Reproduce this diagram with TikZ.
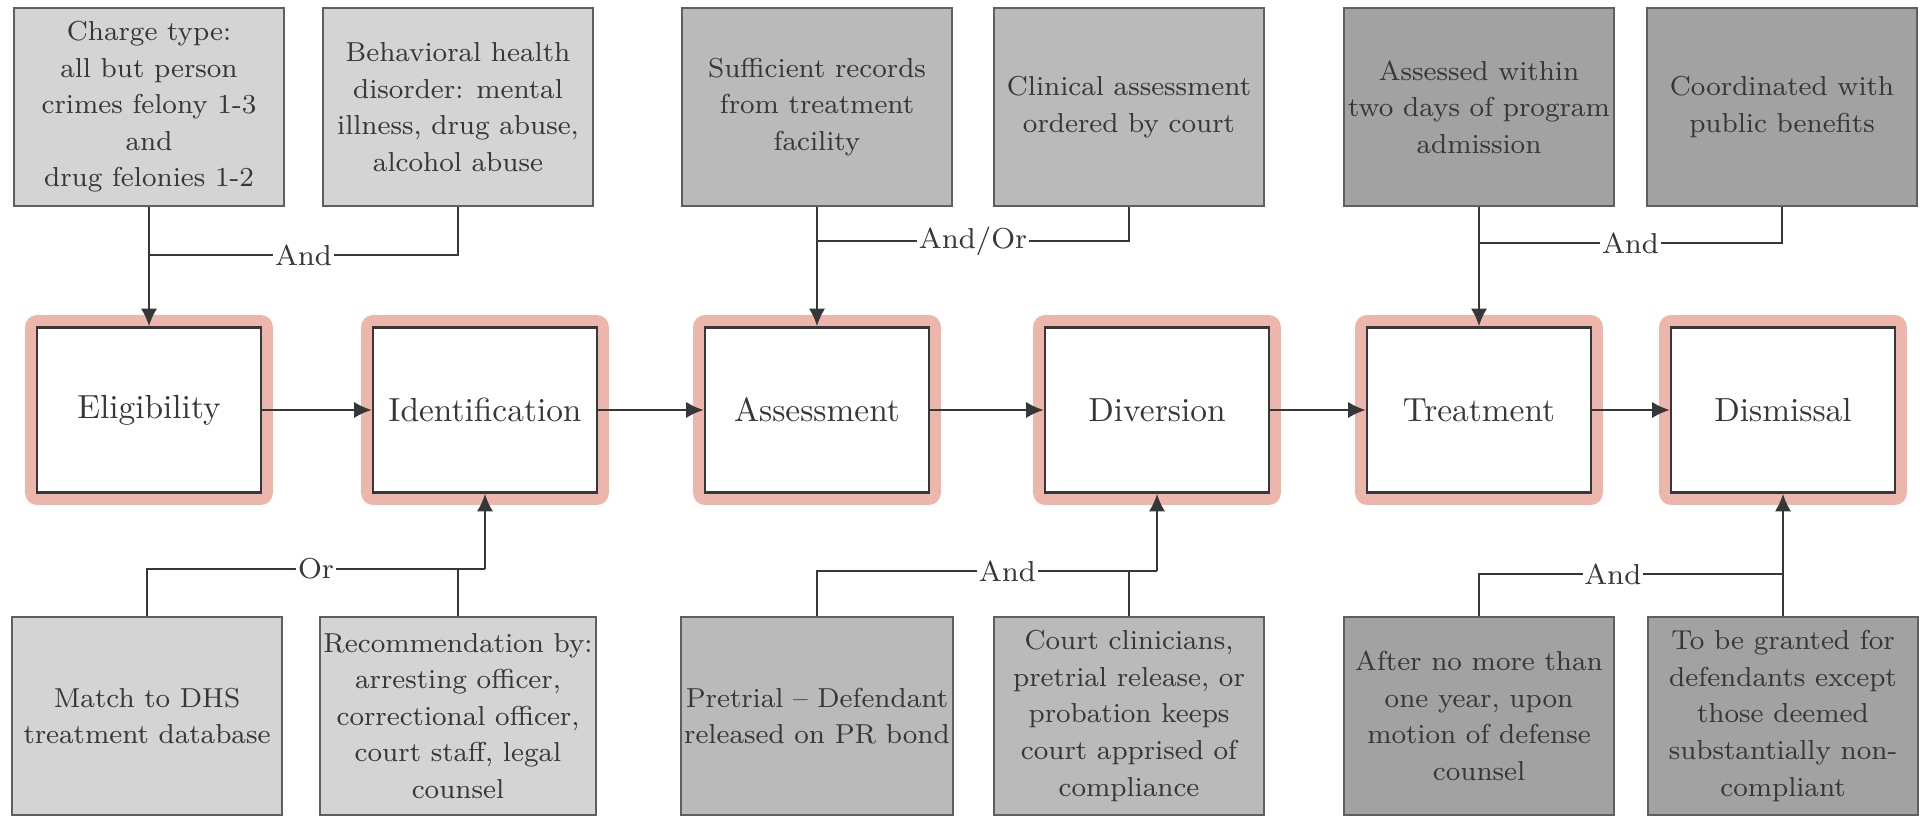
\documentclass[tikz,border=0pt]{standalone}
\usepackage{tikz}
\usetikzlibrary{arrows.meta}
\definecolor{ink}{RGB}{52,56,56}
\definecolor{glowpink}{RGB}{236,182,172}
\definecolor{boxA}{RGB}{212,212,212}
\definecolor{boxB}{RGB}{186,186,186}
\definecolor{boxC}{RGB}{162,162,162}

\begin{document}
\begin{tikzpicture}[x=0.01cm,y=-0.01cm,
  stage/.style={draw=ink,line width=0.7pt,fill=white,minimum width=2.24cm,minimum height=1.65cm,
    text=ink,font=\fontsize{9.5}{11}\selectfont,
    preaction={draw=glowpink,line width=7pt,line join=round}},
  cond/.style={draw=ink!80,line width=0.5pt,fill=#1,minimum width=2.7cm,minimum height=1.98cm,
    inner sep=1pt,align=center,text=ink,font=\fontsize{7.8}{10.4}\selectfont},
  gate/.style={fill=white,inner sep=0.5pt,text=ink,font=\fontsize{8.2}{10}\selectfont},
  link/.style={draw=ink,line width=0.6pt},
  flow/.style={link,-{Latex[length=5pt,width=4.6pt]}}]
\useasboundingbox (0,0) rectangle (1927,819);

\node[stage] (elig) at (149,410) {Eligibility};
\node[stage] (ident) at (485,410) {Identification};
\node[stage] (assess) at (817,410) {Assessment};
\node[stage] (divers) at (1157,410) {Diversion};
\node[stage] (treat) at (1479,410) {Treatment};
\node[stage] (dismiss) at (1783,410) {Dismissal};

\node[cond=boxA] (charge) at (149,107) {Charge type:\\all but person\\crimes felony 1-3\\and\\drug felonies 1-2};
\node[cond=boxA] (behav) at (458,107) {Behavioral health\\disorder: mental\\illness, drug abuse,\\alcohol abuse};
\node[cond=boxB] (records) at (817,107) {Sufficient records\\from treatment\\facility};
\node[cond=boxB] (clinic) at (1129,107) {Clinical assessment\\ordered by court};
\node[cond=boxC] (within) at (1479,107) {Assessed within\\two days of program\\admission};
\node[cond=boxC] (public) at (1782,107) {Coordinated with\\public benefits};

\node[cond=boxA] (dhs) at (147,716) {Match to DHS\\treatment database};
\node[cond=boxA] (recom) at (458,716) {Recommendation by:\\arresting officer,\\correctional officer,\\court staff, legal\\counsel};
\node[cond=boxB] (bond) at (817,716) {Pretrial -- Defendant\\released on PR bond};
\node[cond=boxB] (clinicians) at (1129,716) {Court clinicians,\\pretrial release, or\\probation keeps\\court apprised of\\compliance};
\node[cond=boxC] (oneyear) at (1479,716) {After no more than\\one year, upon\\motion of defense\\counsel};
\node[cond=boxC] (granted) at (1783,716) {To be granted for\\defendants except\\those deemed\\substantially non-\\compliant};

\coordinate (j1) at (149,255);
\coordinate (j2) at (817,241);
\coordinate (j3) at (1479,243);
\coordinate (j4) at (485,569);
\coordinate (j5) at (1157,571);
\coordinate (j6) at (1783,574);

\draw[flow] (elig) -- (ident);
\draw[flow] (ident) -- (assess);
\draw[flow] (assess) -- (divers);
\draw[flow] (divers) -- (treat);
\draw[flow] (treat) -- (dismiss);

\draw[flow] (charge) -- (elig);
\draw[link] (behav.south) |- node[gate,pos=0.75] {And} (j1);
\draw[flow] (records) -- (assess);
\draw[link] (clinic.south) |- node[gate,pos=0.75] {And/Or} (j2);
\draw[flow] (within) -- (treat);
\draw[link] (public.south) |- node[gate,pos=0.75] {And} (j3);

\draw[link] (dhs.north) |- node[gate,pos=0.75] {Or} (j4);
\draw[link] (recom.north) -- (recom.north |- j4);
\draw[flow] (j4) -- (ident);
\draw[link] (bond.north) |- node[gate,pos=0.78] {And} (j5);
\draw[link] (clinicians.north) -- (clinicians.north |- j5);
\draw[flow] (j5) -- (divers);
\draw[link] (oneyear.north) |- node[gate,pos=0.72] {And} (j6);
\draw[flow] (granted) -- (dismiss);
\end{tikzpicture}
\end{document}
